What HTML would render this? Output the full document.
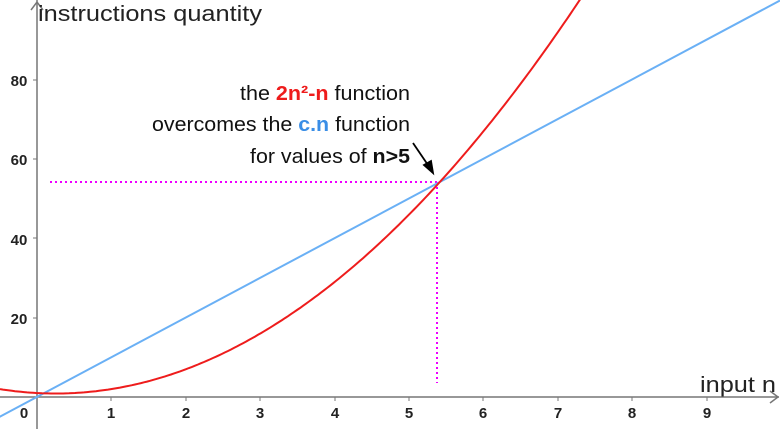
<!DOCTYPE html><html><head><style>html,body{margin:0;background:#fff;overflow:hidden;width:780px;height:429px}svg{display:block;font-family:"Liberation Sans",sans-serif}</style></head><body>
<svg width="780" height="429" viewBox="0 0 780 429">
<g stroke="#777" stroke-width="1.5" fill="none">
<line x1="37" y1="0" x2="37" y2="429"/>
<line x1="0" y1="397" x2="779" y2="397"/>
<polyline points="31,10 37,2 43,10"/>
<polyline points="770,391 778,397 770,403"/>
</g>
<g stroke="#777" stroke-width="1">
<line x1="111" y1="397" x2="111" y2="401"/><line x1="186" y1="397" x2="186" y2="401"/><line x1="260" y1="397" x2="260" y2="401"/><line x1="335" y1="397" x2="335" y2="401"/><line x1="409" y1="397" x2="409" y2="401"/><line x1="483" y1="397" x2="483" y2="401"/><line x1="558" y1="397" x2="558" y2="401"/><line x1="632" y1="397" x2="632" y2="401"/><line x1="707" y1="397" x2="707" y2="401"/>
<line x1="33" y1="80" x2="37" y2="80"/><line x1="33" y1="159" x2="37" y2="159"/><line x1="33" y1="238" x2="37" y2="238"/><line x1="33" y1="318" x2="37" y2="318"/>
</g>
<g font-size="15" font-weight="bold" fill="#222" text-anchor="middle">
<text x="24" y="418">0</text><text x="111" y="418">1</text><text x="186" y="418">2</text><text x="260" y="418">3</text><text x="335" y="418">4</text><text x="409" y="418">5</text><text x="483" y="418">6</text><text x="558" y="418">7</text><text x="632" y="418">8</text><text x="707" y="418">9</text>
<text x="19" y="86">80</text><text x="19" y="165">60</text><text x="19" y="245">40</text><text x="19" y="324">20</text>
</g>
<text x="38" y="21" font-size="22" fill="#222" textLength="224" lengthAdjust="spacingAndGlyphs">instructions quantity</text>
<text x="700" y="392" font-size="22" fill="#222" textLength="76" lengthAdjust="spacingAndGlyphs">input n</text>
<g stroke="#e0f" stroke-width="2" stroke-dasharray="2,3" fill="none">
<line x1="50" y1="182" x2="437" y2="182"/><line x1="437" y1="182" x2="437" y2="383"/>
</g>
<line x1="-40" y1="438" x2="780" y2="0.5" stroke="#6ab0f5" stroke-width="2"/>
<path id="r" fill="none" stroke="#ee1c1c" stroke-width="2"/>
<g stroke="#000" stroke-width="1.8" fill="#000">
<line x1="413" y1="143" x2="430" y2="168"/><polygon points="433,173 424,165 431,161"/>
</g>
<g font-size="20" fill="#111" text-anchor="end" lengthAdjust="spacingAndGlyphs">
<text x="410" y="100" textLength="170" lengthAdjust="spacingAndGlyphs">the <tspan fill="#ee1c1c" font-weight="bold">2n²-n</tspan> function</text>
<text x="410" y="131" textLength="258" lengthAdjust="spacingAndGlyphs">overcomes the <tspan fill="#3a8ee6" font-weight="bold">c.n</tspan> function</text>
<text x="410" y="163" textLength="160" lengthAdjust="spacingAndGlyphs">for values of <tspan font-weight="bold">n&gt;5</tspan></text>
</g>
<script>
var p=[];for(var px=0;px<=600;px+=3){var n=(px-37)/74.4;var v=2*n*n-n+1;p.push(px+","+(397-v*3.965).toFixed(1));}
document.getElementById('r').setAttribute('d','M'+p.join(' L'));
</script>
</svg></body></html>
